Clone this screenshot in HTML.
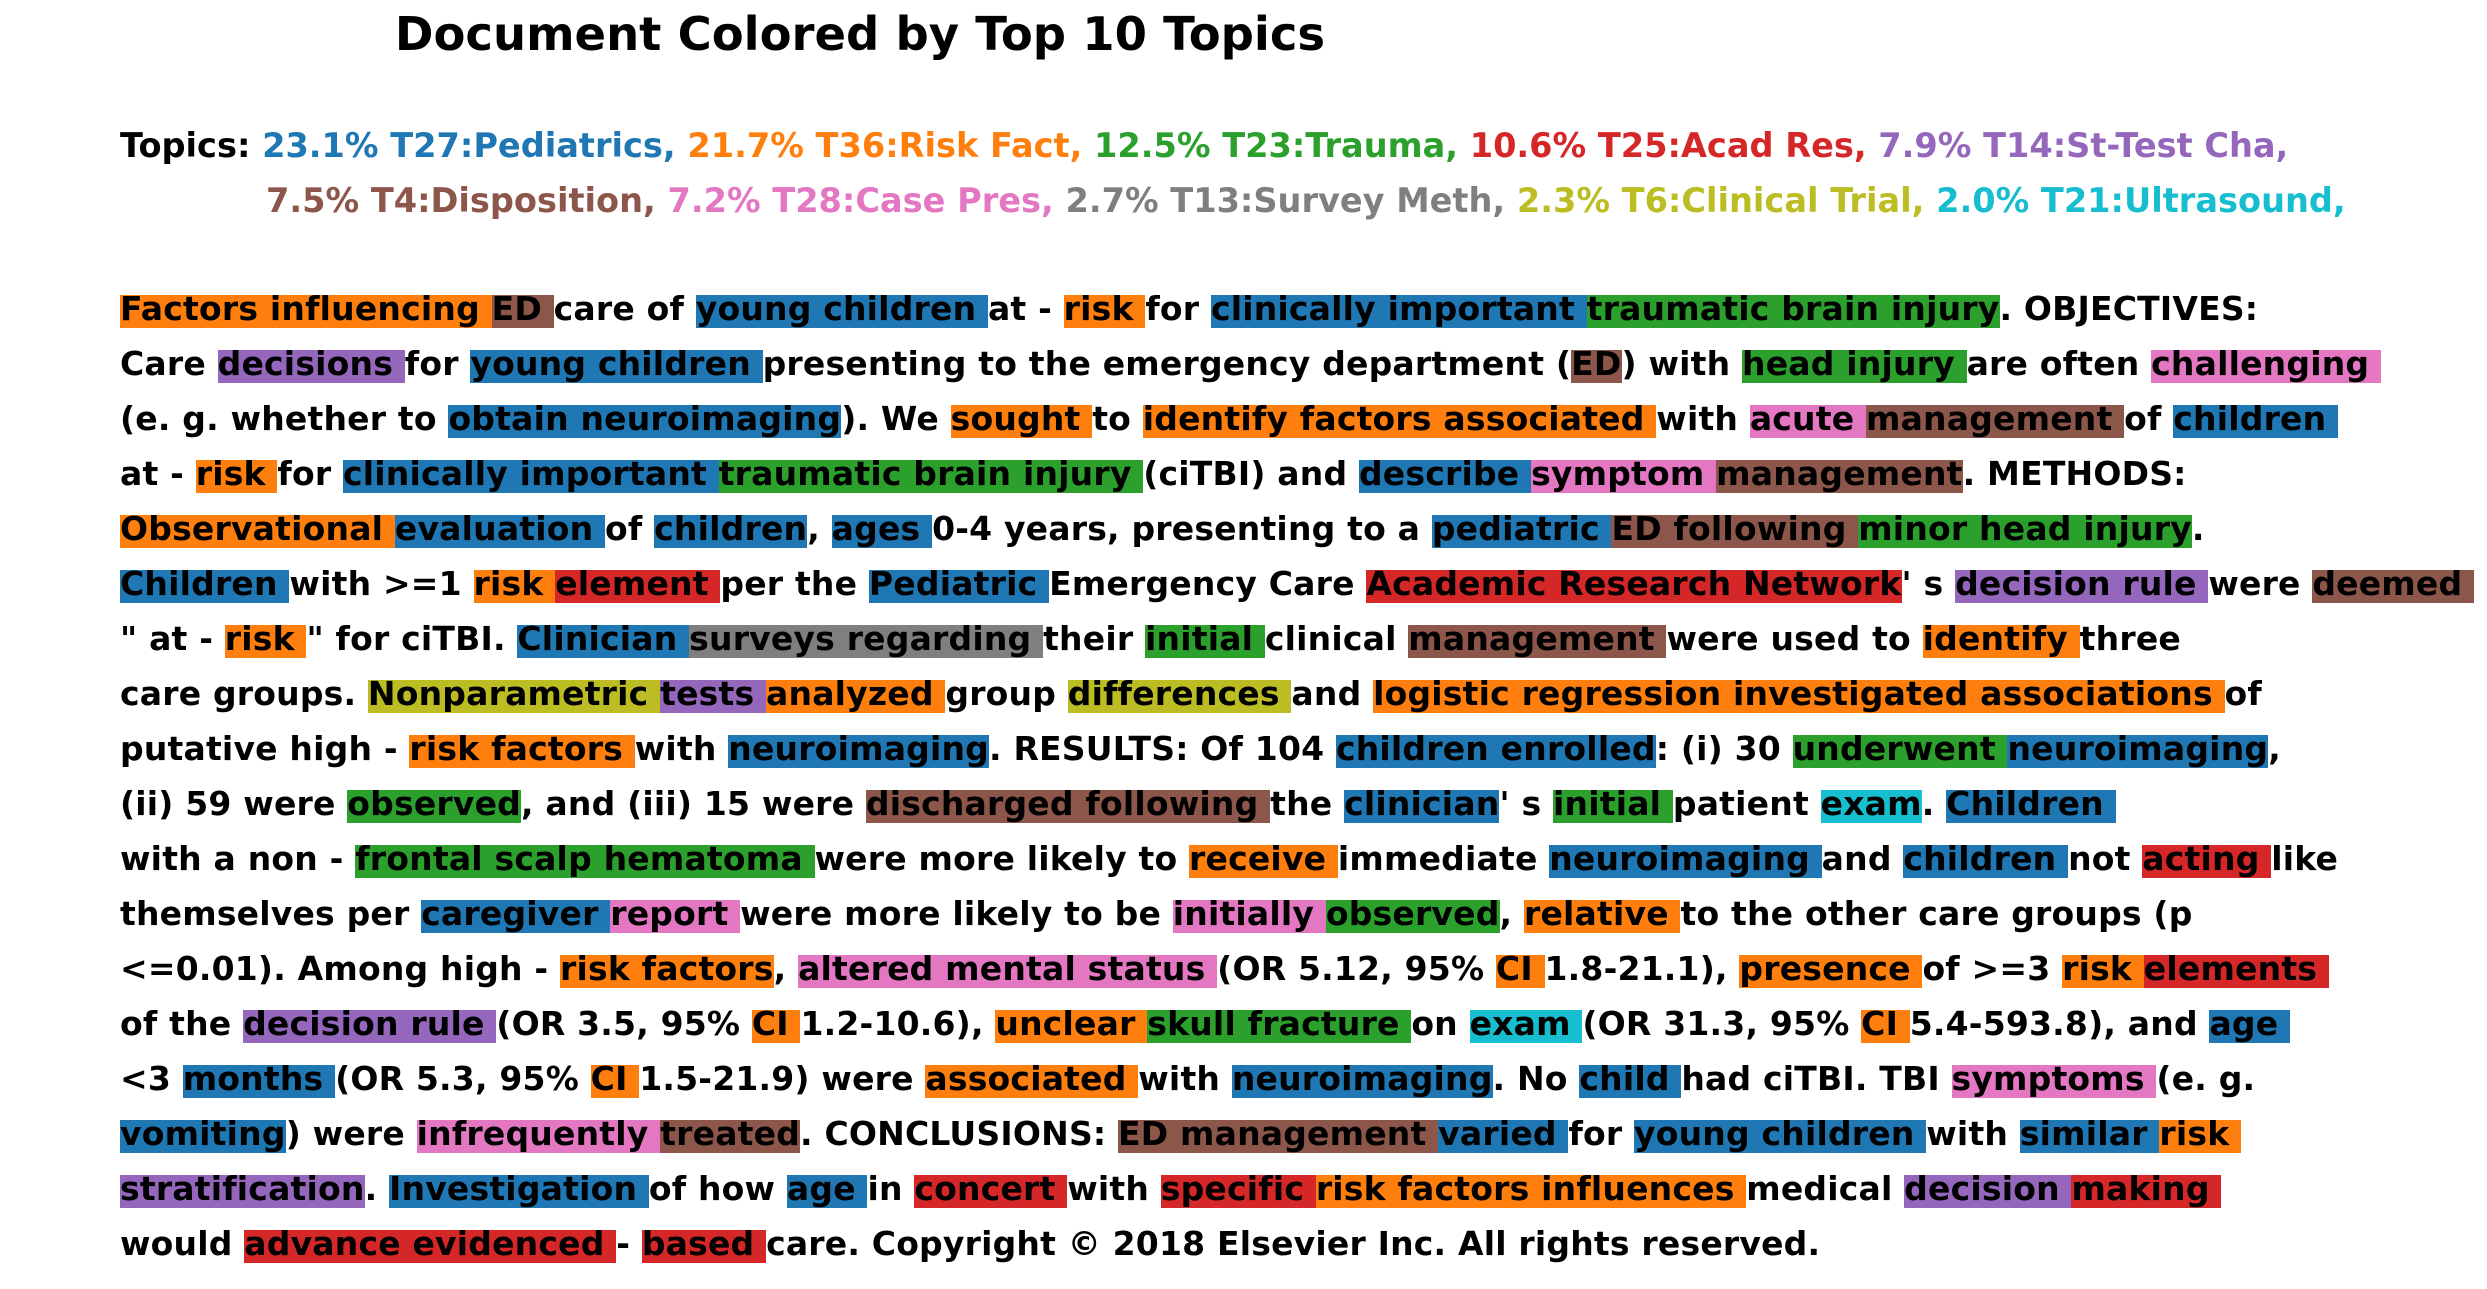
<!DOCTYPE html>
<html><head><meta charset="utf-8">
<style>
html,body{margin:0;padding:0;background:#fff;}
body{width:2487px;height:1289px;position:relative;overflow:hidden;font-family:"DejaVu Sans","Liberation Sans",sans-serif;font-weight:bold;}
.title{position:absolute;left:0;width:1720px;top:11px;text-align:center;font-size:46.5px;line-height:46.5px;white-space:pre;}
.topics{position:absolute;font-size:33.6px;line-height:33.6px;white-space:pre;}
.line{position:absolute;left:120px;height:33px;white-space:pre;font-size:33px;}
.line span{display:inline-block;line-height:28px;padding-bottom:5px;height:28px;vertical-align:top;color:#000;}
</style></head>
<body>
<div class="title">Document Colored by Top 10 Topics</div>
<div id="topics"></div>
<div id="doc"></div>
<script>
const colors = {b:'#1f77b4',o:'#ff7f0e',g:'#2ca02c',r:'#d62728',p:'#9467bd',n:'#8c564b',k:'#e377c2',y:'#7f7f7f',l:'#bcbd22',c:'#17becf'};
const topicLine1 = [['','Topics: '],['b','23.1% T27:Pediatrics, '],['o','21.7% T36:Risk Fact, '],['g','12.5% T23:Trauma, '],['r','10.6% T25:Acad Res, '],['p','7.9% T14:St-Test Cha,']];
const topicLine2 = [['n','7.5% T4:Disposition, '],['k','7.2% T28:Case Pres, '],['y','2.7% T13:Survey Meth, '],['l','2.3% T6:Clinical Trial, '],['c','2.0% T21:Ultrasound,']];
const docLines = [
[['o','Factors influencing '],['n','ED '],['','care of '],['b','young children '],['','at - '],['o','risk '],['','for '],['b','clinically important '],['g','traumatic brain injury'],['','. OBJECTIVES:']],
[['','Care '],['p','decisions '],['','for '],['b','young children '],['','presenting to the emergency department ('],['n','ED'],['',') with '],['g','head injury '],['','are often '],['k','challenging ']],
[['','(e. g. whether to '],['b','obtain neuroimaging'],['','). We '],['o','sought '],['','to '],['o','identify factors associated '],['','with '],['k','acute '],['n','management '],['','of '],['b','children ']],
[['','at - '],['o','risk '],['','for '],['b','clinically important '],['g','traumatic brain injury '],['','(ciTBI) and '],['b','describe '],['k','symptom '],['n','management'],['','. METHODS:']],
[['o','Observational '],['b','evaluation '],['','of '],['b','children'],['',', '],['b','ages '],['','0-4 years, presenting to a '],['b','pediatric '],['n','ED following '],['g','minor head injury'],['','.']],
[['b','Children '],['','with >=1 '],['o','risk '],['r','element '],['','per the '],['b','Pediatric '],['','Emergency Care '],['r','Academic Research Network'],['',"' s "],['p','decision rule '],['','were '],['n','deemed ']],
[['','" at - '],['o','risk '],['','" for ciTBI. '],['b','Clinician '],['y','surveys regarding '],['','their '],['g','initial '],['','clinical '],['n','management '],['','were used to '],['o','identify '],['','three']],
[['','care groups. '],['l','Nonparametric '],['p','tests '],['o','analyzed '],['','group '],['l','differences '],['','and '],['o','logistic regression investigated associations '],['','of']],
[['','putative high - '],['o','risk factors '],['','with '],['b','neuroimaging'],['','. RESULTS: Of 104 '],['b','children enrolled'],['',': (i) 30 '],['g','underwent '],['b','neuroimaging'],['',',']],
[['','(ii) 59 were '],['g','observed'],['',', and (iii) 15 were '],['n','discharged following '],['','the '],['b','clinician'],['',"' s "],['g','initial '],['','patient '],['c','exam'],['','. '],['b','Children ']],
[['','with a non - '],['g','frontal scalp hematoma '],['','were more likely to '],['o','receive '],['','immediate '],['b','neuroimaging '],['','and '],['b','children '],['','not '],['r','acting '],['','like']],
[['','themselves per '],['b','caregiver '],['k','report '],['','were more likely to be '],['k','initially '],['g','observed'],['',', '],['o','relative '],['','to the other care groups (p']],
[['','<=0.01). Among high - '],['o','risk factors'],['',', '],['k','altered mental status '],['','(OR 5.12, 95% '],['o','CI '],['','1.8-21.1), '],['o','presence '],['','of >=3 '],['o','risk '],['r','elements ']],
[['','of the '],['p','decision rule '],['','(OR 3.5, 95% '],['o','CI '],['','1.2-10.6), '],['o','unclear '],['g','skull fracture '],['','on '],['c','exam '],['','(OR 31.3, 95% '],['o','CI '],['','5.4-593.8), and '],['b','age ']],
[['','<3 '],['b','months '],['','(OR 5.3, 95% '],['o','CI '],['','1.5-21.9) were '],['o','associated '],['','with '],['b','neuroimaging'],['','. No '],['b','child '],['','had ciTBI. TBI '],['k','symptoms '],['','(e. g.']],
[['b','vomiting'],['',') were '],['k','infrequently '],['n','treated'],['','. CONCLUSIONS: '],['n','ED management '],['b','varied '],['','for '],['b','young children '],['','with '],['b','similar '],['o','risk ']],
[['p','stratification'],['','. '],['b','Investigation '],['','of how '],['b','age '],['','in '],['r','concert '],['','with '],['r','specific '],['o','risk factors influences '],['','medical '],['p','decision '],['r','making ']],
[['','would '],['r','advance evidenced '],['','- '],['r','based '],['','care. Copyright \u00a9 2018 Elsevier Inc. All rights reserved.']]
];
function topicRow(arr, left, top, name){
  const d=document.createElement('div');
  d.className='topics';
  d.style.left=left+'px'; d.style.top=top+'px';
  
  
  arr.forEach(([c,t])=>{
    const s=document.createElement('span');
    s.textContent=t;
    s.style.color=c?colors[c]:'#000';
    
    
    d.appendChild(s);
  });
  document.getElementById('topics').appendChild(d);
}
topicRow(topicLine1,120,129,'topics-legend-row-1');
topicRow(topicLine2,266,184,'topics-legend-row-2');
const doc=document.getElementById('doc');
const lineDivs=[];
docLines.forEach((ln,i)=>{
  const d=document.createElement('div');
  d.className='line';
  d.style.top=(295+55*i)+'px';
  
  
  ln.forEach(([c,t])=>{
    const s=document.createElement('span');
    s.textContent=t;
    if(c) s.style.background=colors[c];
    
    
    d.appendChild(s);
  });
  doc.appendChild(d);
  lineDivs.push(d);
});
const first=lineDivs[0];
const w=first.getBoundingClientRect().width;
const n=first.textContent.length;
const ls=(2137-w)/n;
lineDivs.forEach(d=>{d.style.letterSpacing=ls+'px';});
</script>
</body></html>
